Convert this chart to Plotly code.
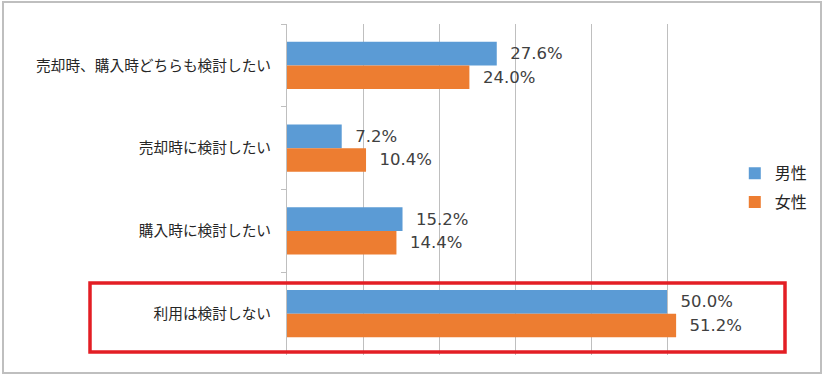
import plotly.graph_objects as go

categories = ["売却時、購入時どちらも検討したい", "売却時に検討したい", "購入時に検討したい", "利用は検討しない"]
male = [27.6, 7.2, 15.2, 50.0]
female = [24.0, 10.4, 14.4, 51.2]
series_names = ["男性", "女性"]
colors = ["#5B9BD5", "#ED7D31"]

FONT = "Noto Sans CJK JP"
NUMFONT = "DejaVu Sans"
NB = "\u00a0"

fig = go.Figure()
for i, (name, vals) in enumerate(zip(series_names, [male, female])):
    fig.add_trace(go.Bar(
        y=categories, x=vals, orientation="h", name=name,
        marker=dict(color=colors[i], line=dict(width=0)),
        text=[f"{NB}{NB}{v:.1f}%" for v in vals], textposition="outside",
        textfont=dict(family=NUMFONT, size=16.5, color="#404040"),
        cliponaxis=False, legendgroup=name,
    ))

fig.update_layout(
    width=823, height=376,
    margin=dict(l=287, r=80, t=24, b=21, autoexpand=False),
    paper_bgcolor="white", plot_bgcolor="white",
    barmode="group", bargap=0.43, bargroupgap=0,
    font=dict(family=FONT, color="#262626"),
    showlegend=True,
    legend=dict(x=0.982, y=0.505, xanchor="left", yanchor="middle",
                traceorder="grouped", tracegroupgap=5,
                font=dict(family=FONT, size=16, color="#262626"),
                bgcolor="rgba(0,0,0,0)", itemwidth=30),
    xaxis=dict(range=[0, 60], dtick=10, showgrid=True, gridcolor="#BFBFBF",
               gridwidth=1, showticklabels=False, zeroline=False, showline=False,
               ticks="", automargin=False),
    yaxis=dict(autorange="reversed", showline=True, linecolor="#BFBFBF",
               ticks="outside", ticklen=5, tickcolor="#BFBFBF", tickson="boundaries",
               tickfont=dict(family=FONT, size=14.7, color="#262626"),
               showgrid=False, ticklabelstandoff=12, automargin=False),
    shapes=[
        dict(type="rect", xref="paper", yref="paper",
             x0=(3 - 287) / 456, x1=(821 - 287) / 456,
             y0=(355 - 373) / 331, y1=(355 - 2) / 331,
             line=dict(color="#BFBFBF", width=2)),
        dict(type="rect", xref="paper", yref="paper",
             x0=(90 - 287) / 456, x1=(785 - 287) / 456,
             y0=(355 - 352) / 331, y1=(355 - 283) / 331,
             line=dict(color="#E31E24", width=3.5)),
    ],
)

fig.write_html("out.html", config={"displayModeBar": False},
               post_script="document.body.style.margin='0';document.body.style.overflow='hidden';")
